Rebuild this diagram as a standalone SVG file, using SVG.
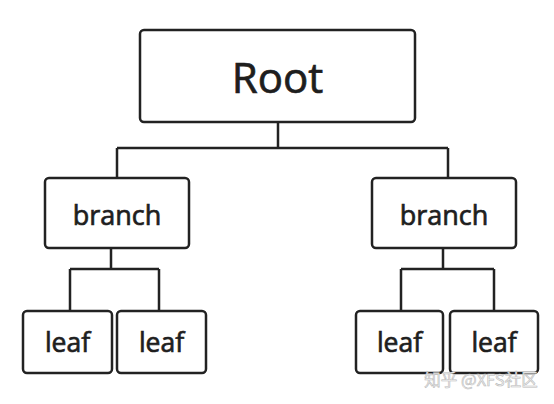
<svg xmlns="http://www.w3.org/2000/svg" width="554" height="404" viewBox="0 0 554 404">
<style>
.box{fill:#fff;stroke:#222;stroke-width:2.5}
.t{font-family:"Open Sans","Noto Sans",sans-serif;font-weight:400;fill:#1e1e1e;stroke:#1e1e1e;stroke-width:0.7;text-anchor:middle}
.c{fill:none;stroke:#222;stroke-width:2.5}
</style>
<rect width="554" height="404" fill="#fff"/>
<g id="connectors">
<path class="c" d="M278 122V148M117 148H448M117 148V178M448 148V178"/>
<path class="c" d="M111 248V269M70 269H159M70 269V311M159 269V311"/>
<path class="c" d="M443 248V269M401 269H494M401 269V311M494 269V311"/>
</g>
<g id="root"><rect class="box" x="140" y="30" width="275" height="92" rx="4"/><text class="t" x="277.5" y="93" font-size="42" stroke-width="1">Root</text></g>
<g id="branch1"><rect class="box" x="45" y="178" width="144" height="70" rx="4"/><text class="t" x="117" y="225" font-size="27">branch</text></g>
<g id="branch2"><rect class="box" x="372" y="178" width="144" height="70" rx="4"/><text class="t" x="444" y="225" font-size="27">branch</text></g>
<g id="leaf1"><rect class="box" x="23" y="311" width="89" height="62" rx="4"/><text class="t" x="67.5" y="352" font-size="26.5">leaf</text></g>
<g id="leaf2"><rect class="box" x="117" y="311" width="89" height="62" rx="4"/><text class="t" x="161.5" y="352" font-size="26.5">leaf</text></g>
<g id="leaf3"><rect class="box" x="356" y="311" width="87" height="62" rx="4"/><text class="t" x="399.5" y="352" font-size="26.5">leaf</text></g>
<g id="leaf4"><rect class="box" x="450" y="311" width="88" height="62" rx="4"/><text class="t" x="494" y="352" font-size="26.5">leaf</text></g>
<text x="481" y="386" font-family="'Noto Sans CJK SC',sans-serif" font-size="16.5" fill="#f4f4f4" stroke="#bbb" stroke-width="0.6" text-anchor="middle">知乎 @XFS社区</text>
</svg>
